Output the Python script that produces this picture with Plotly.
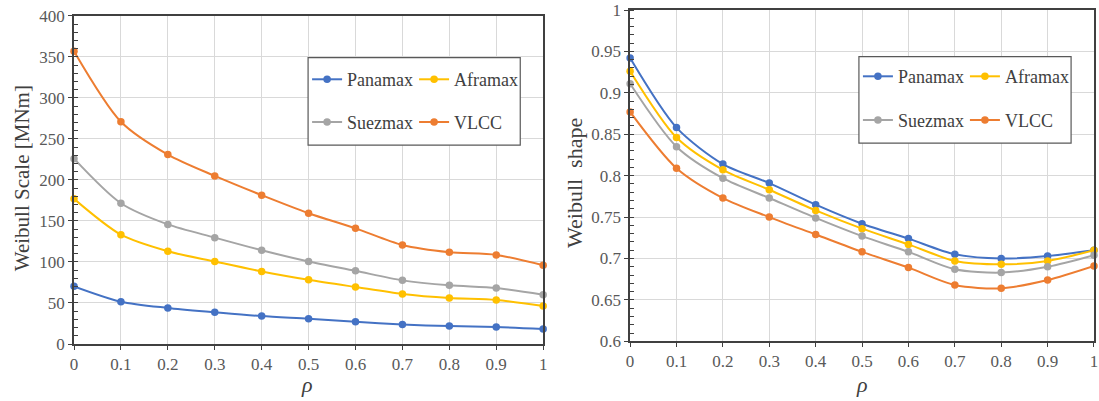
import plotly.graph_objects as go
from plotly.subplots import make_subplots

rho = [0, 0.1, 0.2, 0.3, 0.4, 0.5, 0.6, 0.7, 0.8, 0.9, 1.0]
rho_labels = ["0", "0.1", "0.2", "0.3", "0.4", "0.5", "0.6", "0.7", "0.8", "0.9", "1"]
series_names = ["Panamax", "Aframax", "Suezmax", "VLCC"]
colors = ["#4472C4", "#FFC000", "#A5A5A5", "#ED7D31"]

# Weibull scale [MNm]
scale_panamax = [70.3, 51.6, 44.0, 38.8, 34.0, 30.7, 27.0, 23.8, 21.8, 20.6, 18.2]
scale_aframax = [177.0, 133.3, 113.1, 100.6, 88.5, 78.3, 69.5, 61.0, 56.1, 53.7, 46.4]
scale_suezmax = [226.0, 171.6, 145.8, 129.7, 114.3, 100.6, 89.2, 77.6, 71.5, 68.2, 60.1]
scale_vlcc = [357.0, 271.0, 231.0, 205.0, 181.5, 159.5, 141.0, 120.7, 111.9, 108.6, 96.0]
scale_ticks = [0, 50, 100, 150, 200, 250, 300, 350, 400]

# Weibull shape
shape_panamax = [0.942, 0.858, 0.814, 0.791, 0.765, 0.742, 0.724, 0.705, 0.700, 0.703, 0.710]
shape_aframax = [0.926, 0.846, 0.807, 0.783, 0.758, 0.736, 0.717, 0.697, 0.693, 0.697, 0.710]
shape_suezmax = [0.911, 0.835, 0.797, 0.773, 0.749, 0.727, 0.708, 0.687, 0.683, 0.690, 0.704]
shape_vlcc = [0.877, 0.809, 0.773, 0.750, 0.729, 0.708, 0.689, 0.668, 0.664, 0.674, 0.691]
shape_ticks = [0.6, 0.65, 0.7, 0.75, 0.8, 0.85, 0.9, 0.95, 1.0]
shape_tick_labels = ["0.6", "0.65", "0.7", "0.75", "0.8", "0.85", "0.9", "0.95", "1"]

scale_data = [scale_panamax, scale_aframax, scale_suezmax, scale_vlcc]
shape_data = [shape_panamax, shape_aframax, shape_suezmax, shape_vlcc]

FONT = "Liberation Serif"
W, H = 1099, 401
ML, MR, MT, MB = 74, 1, 8, 57
PW = W - ML - MR
PH = H - MT - MB


def px_x(p):
    return (p - ML) / PW


def px_y(p):
    return (H - MB - p) / PH


fig = make_subplots(rows=1, cols=2)

left_legends = ["legend", "legend", "legend2", "legend2"]
right_legends = ["legend3", "legend3", "legend4", "legend4"]

for i, name in enumerate(series_names):
    fig.add_trace(go.Scatter(
        x=rho, y=scale_data[i], name=name, mode="lines+markers",
        line=dict(color=colors[i], width=2, shape="spline", smoothing=0.8),
        marker=dict(color=colors[i], size=7.5),
        legend=left_legends[i], cliponaxis=False,
    ), row=1, col=1)
for i, name in enumerate(series_names):
    fig.add_trace(go.Scatter(
        x=rho, y=shape_data[i], name=name, mode="lines+markers",
        line=dict(color=colors[i], width=2, shape="spline", smoothing=0.8),
        marker=dict(color=colors[i], size=7.5),
        legend=right_legends[i], cliponaxis=False,
    ), row=1, col=2)

axis_common = dict(
    showline=True, linecolor="#404040", linewidth=1.5, mirror=True,
    showgrid=True, gridcolor="#D9D9D9", gridwidth=1,
    zeroline=False,
    tickfont=dict(family=FONT, size=17, color="#595959"),
    ticks="outside", ticklen=4, tickcolor="#404040",
)

fig.update_xaxes(**axis_common, range=[0, 1], tickvals=rho, ticktext=rho_labels)
fig.update_xaxes(domain=[0, px_x(545)], row=1, col=1)
fig.update_xaxes(domain=[px_x(632.3), 1.0], row=1, col=2)

fig.update_yaxes(**axis_common)
fig.update_yaxes(range=[0, 400], tickvals=scale_ticks, ticktext=[str(v) for v in scale_ticks],
                 domain=[0, px_y(14)],
                 minor=dict(ticks="inside", ticklen=4, dtick=10, tickcolor="#404040", showgrid=False),
                 row=1, col=1)
fig.update_yaxes(range=[0.6, 1.0], domain=[px_y(341.3), 1.0],
                 tickvals=shape_ticks, ticktext=shape_tick_labels,
                 minor=dict(ticks="inside", ticklen=4, dtick=0.01, tickcolor="#404040", showgrid=False),
                 row=1, col=2)

annotations = [
    dict(text="Weibull Scale [MNm]", x=px_x(22), y=px_y(177), xref="paper", yref="paper",
         textangle=-90, showarrow=False, font=dict(family=FONT, size=21, color="#404040"),
         xanchor="center", yanchor="middle"),
    dict(text="Weibull\u00a0\u00a0shape", x=px_x(577), y=px_y(182), xref="paper", yref="paper",
         textangle=-90, showarrow=False, font=dict(family=FONT, size=22, color="#404040"),
         xanchor="center", yanchor="middle"),
    dict(text="<i>ρ</i>", x=px_x(308), y=px_y(385), xref="paper", yref="paper",
         showarrow=False, font=dict(family=FONT, size=22, color="#404040"),
         xanchor="center", yanchor="middle"),
    dict(text="<i>ρ</i>", x=px_x(865), y=px_y(385), xref="paper", yref="paper",
         showarrow=False, font=dict(family=FONT, size=22, color="#404040"),
         xanchor="center", yanchor="middle"),
]

shapes = [
    dict(type="rect", xref="paper", yref="paper", x0=px_x(309), x1=px_x(522),
         y0=px_y(144), y1=px_y(56), line=dict(color="#595959", width=1.2),
         fillcolor="white", layer="above"),
    dict(type="rect", xref="paper", yref="paper", x0=px_x(862), x1=px_x(1075),
         y0=px_y(142), y1=px_y(55), line=dict(color="#595959", width=1.2),
         fillcolor="white", layer="above"),
]

leg_common = dict(orientation="h", bgcolor="rgba(0,0,0,0)", borderwidth=0,
                  font=dict(family=FONT, size=18, color="#404040"),
                  xanchor="left", yanchor="middle", entrywidth=62, itemwidth=30,
                  itemclick=False, itemdoubleclick=False)

fig.update_layout(
    width=W, height=H,
    font=dict(family=FONT, color="#404040"),
    margin=dict(l=ML, r=MR, t=MT, b=MB),
    paper_bgcolor="white", plot_bgcolor="white",
    showlegend=True,
    legend=dict(**leg_common, x=px_x(308), y=px_y(78)),
    legend2=dict(**leg_common, x=px_x(308), y=px_y(121)),
    legend3=dict(**leg_common, x=px_x(861), y=px_y(75)),
    legend4=dict(**leg_common, x=px_x(861), y=px_y(119)),
    annotations=annotations,
    shapes=shapes,
)

fig.write_html("out.html")
